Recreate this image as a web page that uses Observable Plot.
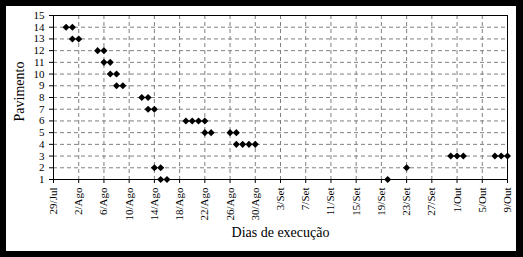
<!DOCTYPE html>
<html><head><meta charset="utf-8">
<script src="https://cdn.jsdelivr.net/npm/d3@7"></script>
<script src="https://cdn.jsdelivr.net/npm/@observablehq/plot@0.6"></script>
<style>
html,body{margin:0;padding:0;background:#fff;}
#chart{width:523px;height:257px;box-sizing:border-box;background:#000;padding:6px 7px 6px 6px;}
#chart svg{display:block;}
</style></head><body><div id="chart"></div>
<script>
// Execution dates per floor (pavimento)
const dates = [
  "2007-07-31","2007-08-01",
  "2007-08-01","2007-08-02",
  "2007-08-05","2007-08-06",
  "2007-08-06","2007-08-07",
  "2007-08-07","2007-08-08",
  "2007-08-08","2007-08-09",
  "2007-08-12","2007-08-13",
  "2007-08-13","2007-08-14",
  "2007-08-19","2007-08-20","2007-08-21","2007-08-22",
  "2007-08-22","2007-08-23","2007-08-26","2007-08-27",
  "2007-08-27","2007-08-28","2007-08-29","2007-08-30",
  "2007-08-14","2007-08-15",
  "2007-08-15","2007-08-16",
  "2007-09-20",
  "2007-09-23",
  "2007-09-30","2007-10-01","2007-10-02",
  "2007-10-07","2007-10-08","2007-10-09"
];
const floors = [
  14,14,
  13,13,
  12,12,
  11,11,
  10,10,
  9,9,
  8,8,
  7,7,
  6,6,6,6,
  5,5,5,5,
  4,4,4,4,
  2,2,
  1,1,
  1,
  2,
  3,3,3,
  3,3,3
];
const xTickLabels = ["29/Jul","2/Ago","6/Ago","10/Ago","14/Ago","18/Ago","22/Ago","26/Ago","30/Ago",
  "3/Set","7/Set","11/Set","15/Set","19/Set","23/Set","27/Set","1/Out","5/Out","9/Out"];
const xDomain = ["2007-07-29","2007-10-09"];
const xTickStepDays = 4;
const yTicks = [1,2,3,4,5,6,7,8,9,10,11,12,13,14,15];
const yDomain = [1,15];
const xTitle = "Dias de execução";
const yTitle = "Pavimento";

const data = dates.map((d,i) => ({date: new Date(d), floor: floors[i]}));
const x0 = new Date(xDomain[0]);
const xTicks = xTickLabels.map((_, i) => d3.utcDay.offset(x0, xTickStepDays * i));

const gridStyle = {stroke: "#808080", strokeOpacity: 1, strokeDasharray: "4,3", strokeWidth: 1};

const chart = Plot.plot({
  width: 510,
  height: 245,
  marginLeft: 47,
  marginTop: 9,
  marginRight: 9,
  marginBottom: 72,
  style: {fontFamily: "'Liberation Serif', 'Times New Roman', serif", fontSize: "11px", background: "white", color: "black"},
  x: {type: "utc", domain: xDomain.map(d => new Date(d))},
  y: {domain: yDomain},
  marks: [
    Plot.gridY({ticks: yTicks.slice(1, -1), ...gridStyle}),
    Plot.gridX({ticks: xTicks.slice(1, -1), ...gridStyle}),
    Plot.frame({stroke: "black"}),
    Plot.axisY({ticks: yTicks, tickSize: 4, tickPadding: 5, label: null, fontSize: 11}),
    Plot.axisX({ticks: xTicks, tickFormat: (d, i) => xTickLabels[i], tickRotate: -90, tickSize: 4, tickPadding: 4, label: null, fontSize: 11}),
    Plot.text([xTitle], {frameAnchor: "bottom", dy: 57.5, fontSize: 14, fill: "black"}),
    Plot.text([yTitle], {frameAnchor: "left", rotate: -90, dx: -34, dy: 24, fontSize: 14, fill: "black"}),
    Plot.dot(data, {x: "date", y: "floor", symbol: "diamond2", r: 3.2, fill: "black", stroke: "none"})
  ]
});
document.getElementById("chart").appendChild(chart);
</script>
</body></html>
